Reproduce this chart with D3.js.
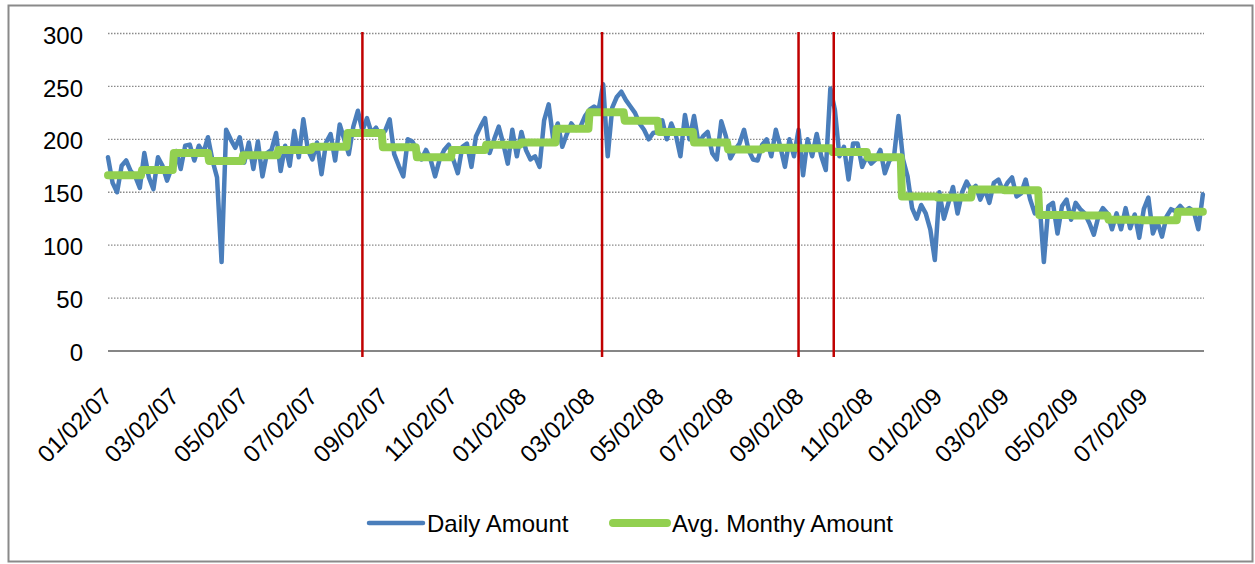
<!DOCTYPE html>
<html>
<head>
<meta charset="utf-8">
<script src="https://cdn.jsdelivr.net/npm/d3@7"></script>
<style>
  body { margin: 0; background: #fff; }
  text { font-family: "Liberation Sans", Arial, sans-serif; fill: #000; }
</style>
</head>
<body>
<svg id="chart" width="1255" height="564"></svg>
<script>
// ---- data ----
const startDate = "2007-01-02";
const endDate = "2009-08-24";
const dailyStepDays = 4; // one reading every 4 days

const dailyValues = [
  183, 159, 150, 175, 180, 170, 165, 154, 187, 164, 153, 183, 175, 161, 173, 189,
  172, 194, 195, 180, 194, 187, 202, 180, 164, 84, 209, 200, 192, 202, 178, 197,
  172, 198, 165, 187, 190, 206, 170, 194, 175, 208, 183, 219, 190, 181, 197, 167,
  197, 205, 180, 214, 200, 186, 212, 227, 208, 220, 206, 211, 203, 208, 219, 186,
  175, 165, 200, 198, 190, 181, 190, 181, 165, 181, 190, 195, 181, 168, 193, 196,
  174, 203, 212, 220, 187, 200, 212, 196, 177, 209, 184, 207, 190, 181, 184, 174,
  218, 233, 200, 215, 193, 205, 215, 209, 212, 222, 228, 231, 228, 252, 184, 230,
  240, 245, 237, 231, 225, 215, 209, 200, 206, 207, 218, 200, 215, 204, 184, 223,
  200, 222, 196, 203, 207, 187, 181, 217, 203, 182, 190, 196, 209, 190, 181, 180,
  195, 200, 184, 209, 193, 174, 200, 184, 209, 166, 200, 184, 205, 184, 171, 248,
  228, 184, 193, 162, 196, 196, 174, 184, 177, 181, 190, 168, 180, 183, 222, 181,
  165, 135, 125, 138, 130, 115, 86, 150, 125, 140, 155, 130, 150, 160, 152, 156,
  143, 153, 140, 159, 162, 151, 159, 164, 146, 149, 162, 143, 130, 143, 84, 137,
  140, 111, 137, 143, 124, 140, 134, 130, 121, 110, 127, 135, 130, 115, 130, 115,
  135, 116, 129, 107, 134, 145, 111, 122, 108, 127, 134, 132, 137, 132, 135, 132,
  115, 148
];

// monthly averages, Jan 2007 .. Aug 2009
const monthlyValues = [
  166, 171, 187, 179.5, 185, 190, 193, 206, 192.5, 183, 190, 195,
  197, 210, 225.5, 217.5, 207, 197, 190.5, 192, 191.5, 188, 183, 146,
  145, 152.5, 152, 128.5, 128, 124, 123.5, 131.5
];

const xTickDates = [
  "2007-01-02", "2007-03-02", "2007-05-02", "2007-07-02", "2007-09-02", "2007-11-02",
  "2008-01-02", "2008-03-02", "2008-05-02", "2008-07-02", "2008-09-02", "2008-11-02",
  "2009-01-02", "2009-03-02", "2009-05-02", "2009-07-02"
];
const yTicks = [0, 50, 100, 150, 200, 250, 300];
const eventDates = ["2007-08-14", "2008-03-12", "2008-09-01", "2008-10-02"];
const seriesNames = ["Daily Amount", "Avg. Monthy Amount"];

// ---- setup ----
const parse = d3.utcParse("%Y-%m-%d");
const fmt = d3.utcFormat("%m/%d/%y");
const t0 = parse(startDate), t1 = parse(endDate);

const daily = dailyValues.map((v, i) => ({ date: d3.utcDay.offset(t0, i * dailyStepDays), value: v }));
const lastDaily = daily[daily.length - 1].date;

// monthly steps: flat from first to last day of each month
const monthly = [];
monthlyValues.forEach((v, i) => {
  const m0 = d3.utcMonth.offset(d3.utcMonth.floor(t0), i);
  const m1 = d3.utcDay.offset(d3.utcMonth.offset(m0, 1), -1);
  const a = m0 < t0 ? t0 : m0;
  const b = m1 > lastDaily ? lastDaily : m1;
  monthly.push({ date: a, value: v }, { date: b, value: v });
});

const svg = d3.select("#chart");
const plot = { left: 108, right: 1204, top: 33.5, bottom: 351 };

const x = d3.scaleUtc().domain([t0, t1]).range([plot.left, plot.right]);
const y = d3.scaleLinear().domain([0, 300]).range([plot.bottom, plot.top]);

// outer frame
svg.append("rect")
  .attr("x", 8.5).attr("y", 5.5)
  .attr("width", 1244).attr("height", 556)
  .attr("fill", "#fff")
  .attr("stroke", "#8a8a8a")
  .attr("stroke-width", 2);

// dotted gridlines
svg.append("g")
  .selectAll("line")
  .data(yTicks.filter(d => d > 0))
  .join("line")
  .attr("x1", plot.left).attr("x2", plot.right)
  .attr("y1", d => y(d)).attr("y2", d => y(d))
  .attr("stroke", "#8a8a8a")
  .attr("stroke-width", 1.3)
  .attr("stroke-dasharray", "1.5,1.5");

// y axis labels
const yAxis = svg.append("g")
  .attr("transform", `translate(${plot.left},0)`)
  .call(d3.axisLeft(y).tickValues(yTicks).tickSize(0).tickPadding(25));
yAxis.select(".domain").remove();
yAxis.selectAll("text")
  .attr("font-size", 24)
  .attr("font-family", null)
  .attr("dy", "0.4em");

// x axis
const xAxis = svg.append("g")
  .attr("transform", `translate(0,${plot.bottom})`)
  .call(d3.axisBottom(x).tickValues(xTickDates.map(parse)).tickFormat(fmt).tickSize(0));
xAxis.select(".domain").remove();
xAxis.selectAll("text")
  .attr("font-size", 24)
  .attr("font-family", null)
  .attr("text-anchor", "end")
  .attr("x", 0).attr("y", 0)
  .attr("dy", "0.35em")
  .attr("transform", "translate(-1,41) rotate(-45)");

svg.append("line")
  .attr("x1", plot.left).attr("x2", plot.right)
  .attr("y1", plot.bottom).attr("y2", plot.bottom)
  .attr("stroke", "#868686")
  .attr("stroke-width", 2);

// lines
const line = d3.line().x(d => x(d.date)).y(d => y(d.value));

svg.append("path")
  .datum(daily)
  .attr("d", line)
  .attr("fill", "none")
  .attr("stroke", "#4a7ebb")
  .attr("stroke-width", 4.5)
  .attr("stroke-linejoin", "round")
  .attr("stroke-linecap", "round");

svg.append("path")
  .datum(monthly)
  .attr("d", line)
  .attr("fill", "none")
  .attr("stroke", "#92d050")
  .attr("stroke-width", 8)
  .attr("stroke-linejoin", "round")
  .attr("stroke-linecap", "round");

// red event markers
svg.append("g")
  .selectAll("line")
  .data(eventDates.map(parse))
  .join("line")
  .attr("x1", d => x(d)).attr("x2", d => x(d))
  .attr("y1", plot.top - 1.5).attr("y2", plot.bottom + 6)
  .attr("stroke", "#c00000")
  .attr("stroke-width", 2.5);

// legend
const legend = svg.append("g").attr("transform", "translate(0,523)");
const legendItems = [
  { name: seriesNames[0], color: "#4a7ebb", width: 4.5, x0: 369, x1: 423 },
  { name: seriesNames[1], color: "#92d050", width: 8, x0: 613, x1: 667 }
];
legendItems.forEach(d => {
  legend.append("line")
    .attr("x1", d.x0).attr("x2", d.x1)
    .attr("y1", 0).attr("y2", 0)
    .attr("stroke", d.color)
    .attr("stroke-width", d.width)
    .attr("stroke-linecap", "round");
  legend.append("text")
    .attr("x", d.x1 + (d.width > 5 ? 5 : 4))
    .attr("dy", "0.36em")
    .attr("font-size", 24)
    .text(d.name);
});
</script>
</body>
</html>
